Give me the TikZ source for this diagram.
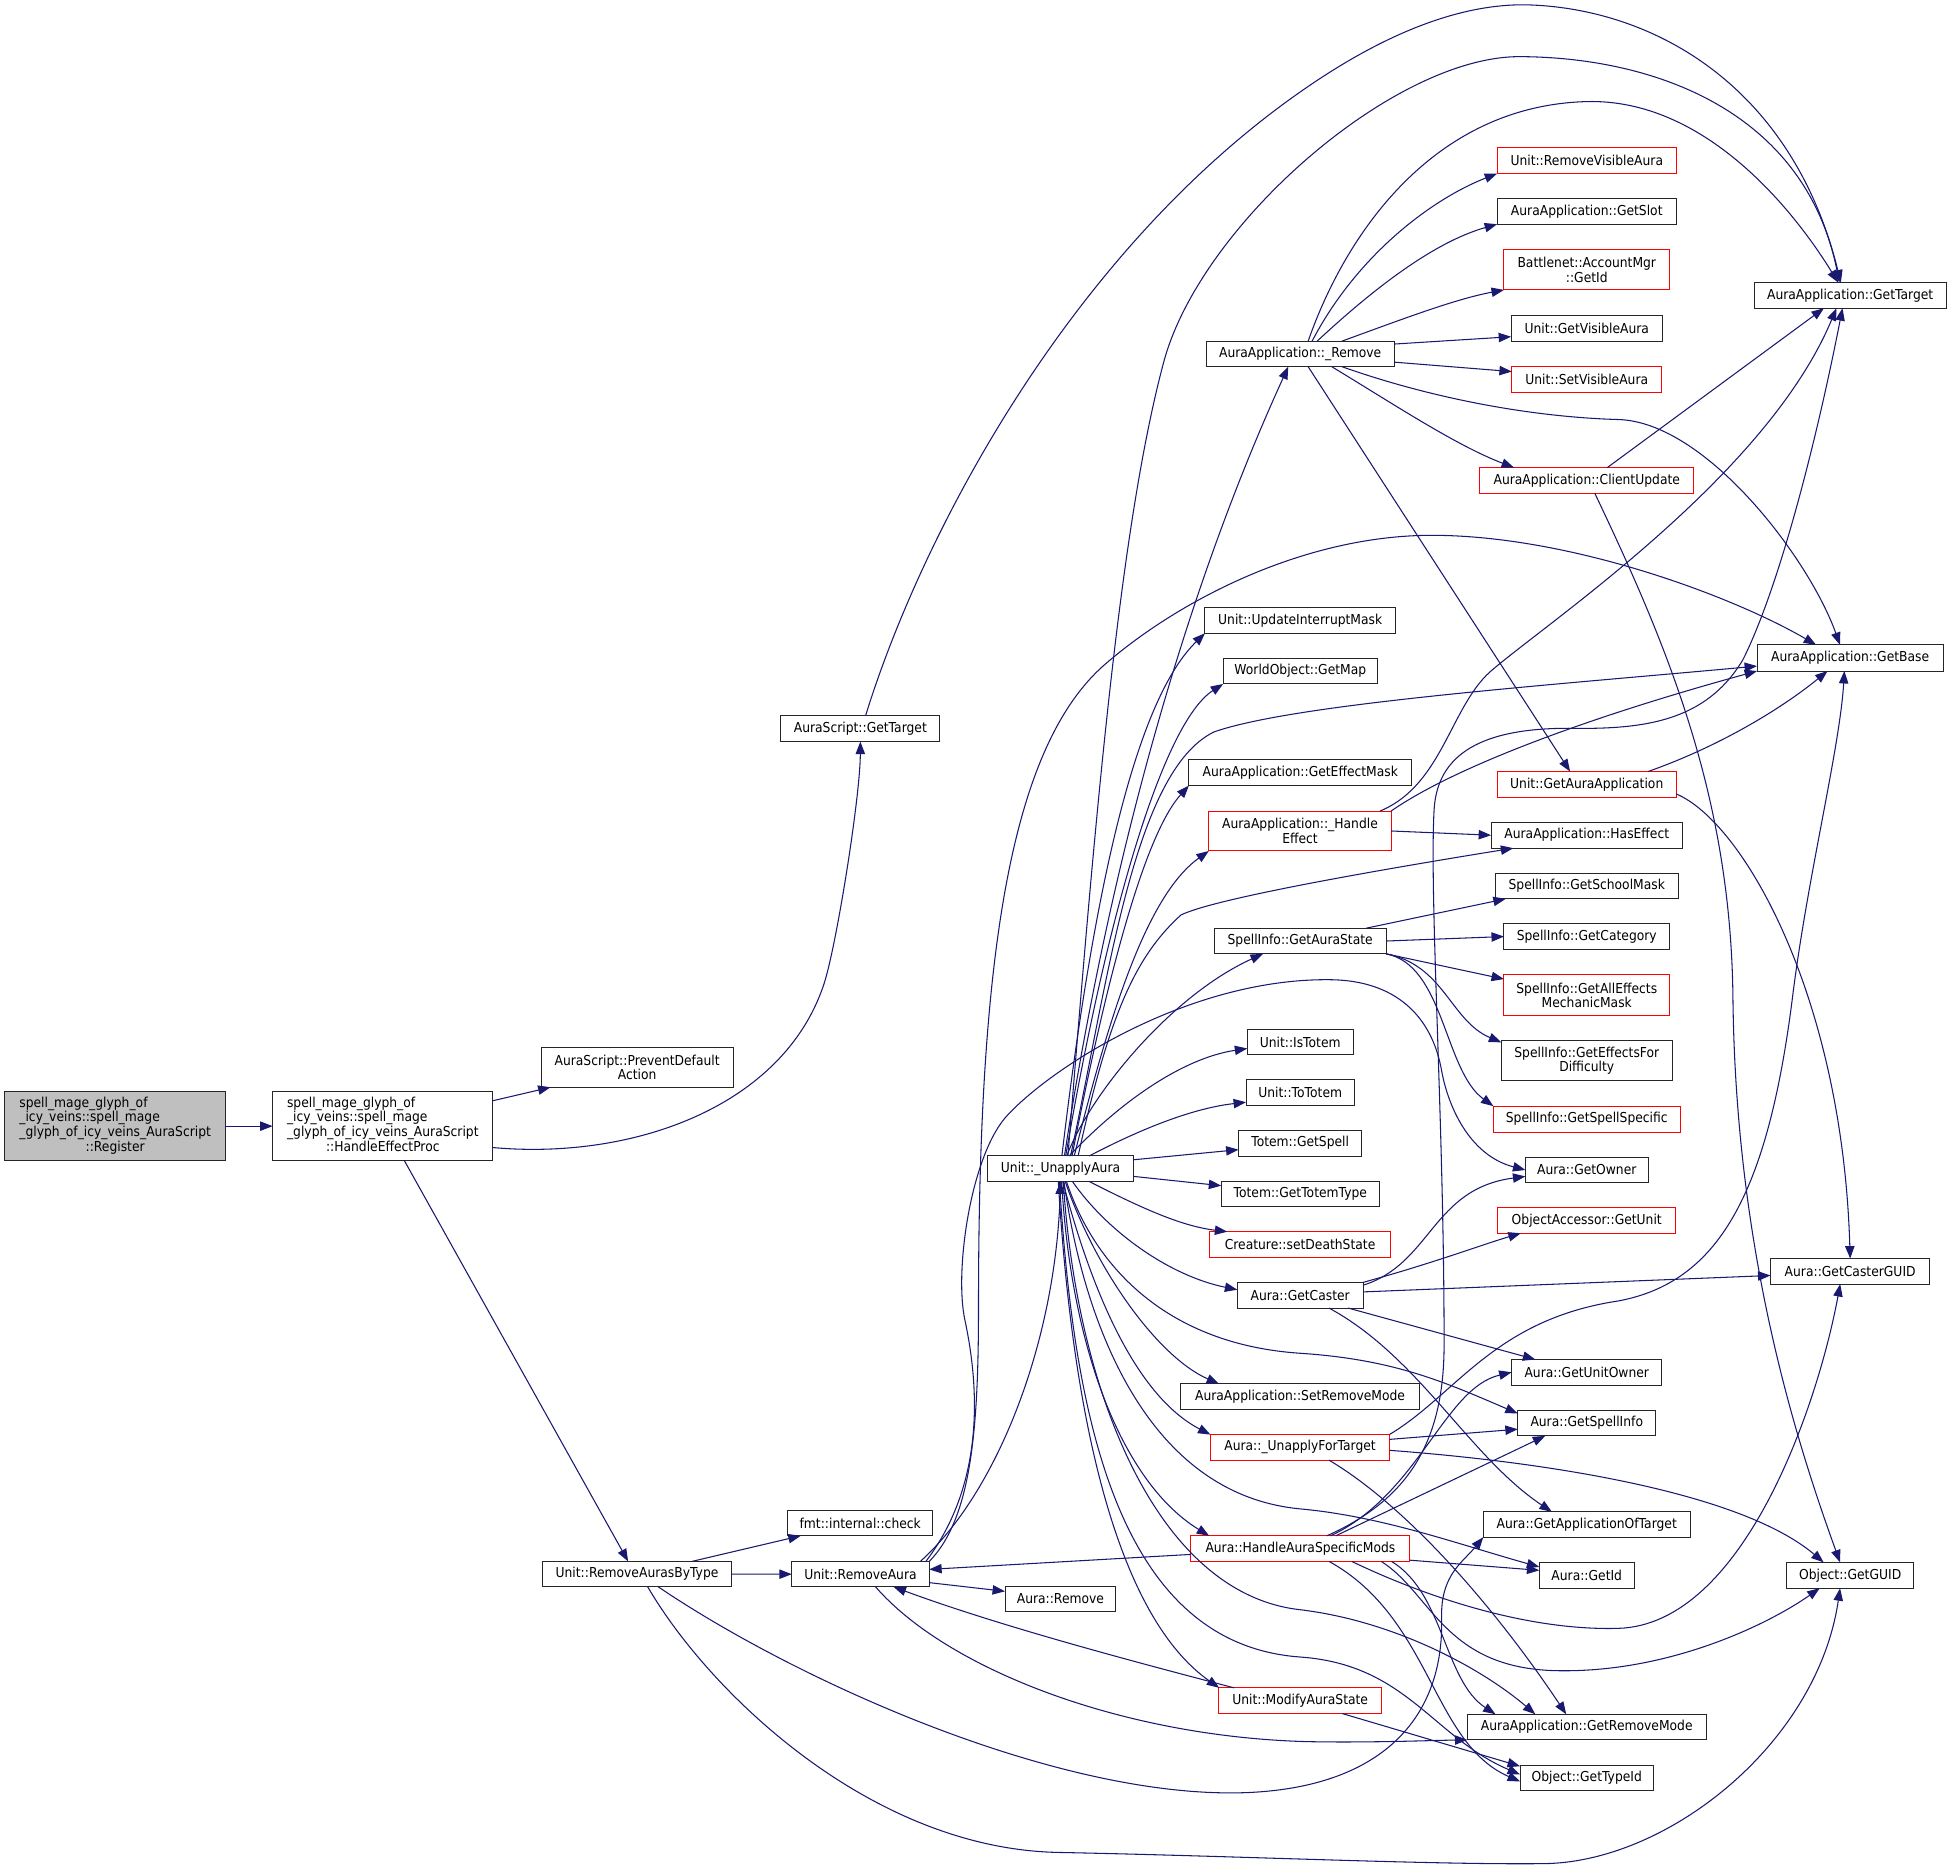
\documentclass[tikz,border=0pt]{standalone}
\usepackage{fontspec}
\newfontfamily\dvfont[FakeStretch=0.9]{DejaVu Sans}
\usetikzlibrary{arrows.meta}
\definecolor{edgeblue}{HTML}{191970}
\definecolor{rootgray}{HTML}{BFBFBF}
\newcommand\mkbox[7]{\node[#6, minimum width=#4, minimum height=#5] (#1) at (#2,#3) {#7};}
\tikzset{
  nbox/.style={draw=black!85, line width=0.8pt, fill=white, inner sep=0pt, outer sep=0pt, align=center, font=\dvfont\fontsize{11}{11.6}\selectfont},
  rbox/.style={nbox, draw=red},
  gbox/.style={nbox, fill=rootgray},
  link/.style={draw=edgeblue, line width=0.85pt, -{Triangle[length=10pt,width=7.5pt]}},
}
\begin{document}
\begin{tikzpicture}[x=1pt,y=-1pt]
\fill[white] (0,0) rectangle (1568,1502);
\useasboundingbox (0,0) rectangle (1568,1502);
% ---- nodes
\mkbox{reg}{92.5}{904.6}{177}{55.4}{gbox}{\begin{tabular}{@{}l@{}}spell\_mage\_glyph\_of\\\_icy\_veins::spell\_mage\\\_glyph\_of\_icy\_veins\_AuraScript\\\multicolumn{1}{@{}c@{}}{::Register}\end{tabular}}
\mkbox{hep}{307.5}{904.6}{177}{55.4}{nbox}{\begin{tabular}{@{}l@{}}spell\_mage\_glyph\_of\\\_icy\_veins::spell\_mage\\\_glyph\_of\_icy\_veins\_AuraScript\\\multicolumn{1}{@{}c@{}}{::HandleEffectProc}\end{tabular}}
\mkbox{pda}{511.8}{857.3}{154.4}{32.1}{nbox}{AuraScript::PreventDefault\\Action}
\mkbox{asgt}{691.1}{585.3}{127.8}{20.8}{nbox}{AuraScript::GetTarget}
\mkbox{rabt}{511.7}{1264.4}{151.3}{20.4}{nbox}{Unit::RemoveAurasByType}
\mkbox{fmt}{691}{1223.5}{116.8}{20.3}{nbox}{fmt::internal::check}
\mkbox{ra}{691.2}{1264.5}{110.4}{20.4}{nbox}{Unit::RemoveAura}
\mkbox{arem}{851.8}{1284.5}{89}{20.3}{nbox}{Aura::Remove}
\mkbox{ua}{851.9}{938.8}{117}{20.5}{nbox}{Unit::\_UnapplyAura}
\mkbox{rem}{1044.4}{284.3}{151}{20.5}{nbox}{AuraApplication::\_Remove}
\mkbox{uim}{1044.4}{498.4}{153}{20.6}{nbox}{Unit::UpdateInterruptMask}
\mkbox{gmap}{1044.5}{539.1}{124}{20.6}{nbox}{WorldObject::GetMap}
\mkbox{gem}{1044.5}{620.7}{179}{20.6}{nbox}{AuraApplication::GetEffectMask}
\mkbox{he}{1044.25}{667.5}{146.5}{32.1}{rbox}{AuraApplication::\_Handle\\Effect}
\mkbox{gas}{1044.4}{755.9}{138}{20.6}{nbox}{SpellInfo::GetAuraState}
\mkbox{ist}{1044.4}{837}{85}{20.6}{nbox}{Unit::IsTotem}
\mkbox{tot}{1044.4}{877.7}{87}{20.6}{nbox}{Unit::ToTotem}
\mkbox{tgs}{1044.4}{918.3}{99}{20.6}{nbox}{Totem::GetSpell}
\mkbox{gtt}{1044.5}{959.1}{127}{20.6}{nbox}{Totem::GetTotemType}
\mkbox{sds}{1044.3}{999.7}{145}{20.6}{rbox}{Creature::setDeathState}
\mkbox{gc}{1044.4}{1040.4}{101}{20.6}{nbox}{Aura::GetCaster}
\mkbox{srm}{1044.3}{1121.9}{191.5}{20.6}{nbox}{AuraApplication::SetRemoveMode}
\mkbox{uft}{1044.3}{1162.5}{144}{20.6}{rbox}{Aura::\_UnapplyForTarget}
\mkbox{hasm}{1044.6}{1244}{176}{20.6}{rbox}{Aura::HandleAuraSpecificMods}
\mkbox{mas}{1044.4}{1366.1}{131}{20.6}{rbox}{Unit::ModifyAuraState}
\mkbox{rva}{1274.6}{129}{144}{20.8}{rbox}{Unit::RemoveVisibleAura}
\mkbox{gslot}{1274.6}{169.8}{144}{20.6}{nbox}{AuraApplication::GetSlot}
\mkbox{amg}{1274.6}{216.7}{133}{32.4}{rbox}{Battlenet::AccountMgr\\::GetId}
\mkbox{gva}{1274.6}{264.1}{121.5}{20.6}{nbox}{Unit::GetVisibleAura}
\mkbox{sva}{1274.6}{304.8}{120.3}{20.6}{rbox}{Unit::SetVisibleAura}
\mkbox{cu}{1274.6}{385.9}{172}{20.6}{rbox}{AuraApplication::ClientUpdate}
\mkbox{gaa}{1274.6}{630.2}{143.6}{20.9}{rbox}{Unit::GetAuraApplication}
\mkbox{hase}{1274.6}{670.9}{153.7}{20.8}{nbox}{AuraApplication::HasEffect}
\mkbox{gsm}{1274.6}{711.7}{147}{20.6}{nbox}{SpellInfo::GetSchoolMask}
\mkbox{gcat}{1274.6}{752.3}{133}{20.4}{nbox}{SpellInfo::GetCategory}
\mkbox{gaem}{1274.6}{799.4}{133}{32.8}{rbox}{SpellInfo::GetAllEffects\\MechanicMask}
\mkbox{gefd}{1274.6}{851.9}{137.3}{32.6}{nbox}{SpellInfo::GetEffectsFor\\Difficulty}
\mkbox{gss}{1274.6}{899}{150}{20.9}{rbox}{SpellInfo::GetSpellSpecific}
\mkbox{gown}{1274.6}{939.8}{98.6}{20.7}{nbox}{Aura::GetOwner}
\mkbox{gunit}{1274.6}{980.3}{143.3}{20.6}{rbox}{ObjectAccessor::GetUnit}
\mkbox{guo}{1274.6}{1102.3}{120.7}{20.6}{nbox}{Aura::GetUnitOwner}
\mkbox{gsi}{1274.6}{1143.2}{110.8}{20.4}{nbox}{Aura::GetSpellInfo}
\mkbox{gaot}{1274.6}{1224.6}{166.7}{20.4}{nbox}{Aura::GetApplicationOfTarget}
\mkbox{gid}{1274.6}{1265.4}{76.2}{20.8}{nbox}{Aura::GetId}
\mkbox{grm}{1274.6}{1387.3}{191.7}{20.6}{nbox}{AuraApplication::GetRemoveMode}
\mkbox{gtid}{1274.6}{1428.2}{107.2}{20.6}{nbox}{Object::GetTypeId}
\mkbox{aagt}{1486.2}{237.3}{154.4}{20.6}{nbox}{AuraApplication::GetTarget}
\mkbox{gbase}{1486.2}{528.5}{149.6}{21}{nbox}{AuraApplication::GetBase}
\mkbox{gcg}{1486.2}{1021.2}{128}{20.5}{nbox}{Aura::GetCasterGUID}
\mkbox{guid}{1486.2}{1265.4}{101.6}{20.8}{nbox}{Object::GetGUID}
% ---- edges: left part
\draw[link] (reg.east) -- (hep.west);
\draw[link] (hep.13) -- (pda.193);
\draw[link] (hep.-11) .. controls (510,932) and (630,888) .. (662,790) .. controls (672,759) and (691,640) .. (asgt.south);
\draw[link] (hep.-58) -- (rabt.125);
\draw[link] (asgt.68) .. controls (740,430) and (860,200) .. (1050,70) .. controls (1120,22) and (1180,2) .. (1230,4) .. controls (1330,8) and (1440,70) .. (aagt.126);
\draw[link] (rabt.13) -- (fmt.192);
\draw[link] (rabt.east) -- (ra.west);
\draw[link] (rabt.-31) .. controls (640,1350) and (850,1445) .. (1000,1440) .. controls (1110,1436) and (1160,1380) .. (1158,1300) .. controls (1157,1265) and (1175,1255) .. (gaot.187);
\draw[link] (rabt.-50) .. controls (570,1360) and (700,1485) .. (850,1488) .. controls (1000,1491) and (1150,1498) .. (1240,1497) .. controls (1340,1496) and (1460,1400) .. (guid.232);
% ---- Unit::RemoveAura
\draw[link] (ra.-7) -- (arem.172);
\draw[link] (ra.12) .. controls (800,1200) and (848,1080) .. (ua.south);
\draw[link] (ra.north east) .. controls (780,1220) and (786,1150) .. (786,1050) .. controls (786,780) and (808.6,600.8) .. (888.6,532.8) .. controls (950,480) and (1050,430) .. (1150,430) .. controls (1260,430) and (1390,478) .. (gbase.159);
\draw[link] (ra.11) .. controls (785,1200) and (790,1130) .. (775,1060) .. controls (766.5,1020) and (780,926) .. (810,895) .. controls (850,853) and (960,785) .. (1070,787) .. controls (1120,788) and (1150,815) .. (1158,860) .. controls (1163,888) and (1180,928) .. (gown.west);
\draw[link] (ra.-40) .. controls (760,1340) and (900,1395) .. (1050,1399) .. controls (1100,1400) and (1150,1398) .. (grm.south west);
\draw[link] (mas.169) .. controls (900,1332) and (800,1305) .. (ra.-21);
\draw[link] (hasm.183) -- (ra.4);
% ---- Unit::_UnapplyAura
\draw[link] (ua.73) .. controls (890,700) and (950,480) .. (rem.227);
\draw[link] (ua.60) .. controls (880,650) and (900,420) .. (935,290) .. controls (965,180) and (1120,45) .. (1221,45.5) .. controls (1330,46) and (1450,90) .. (aagt.130);
\draw[link] (ua.84) .. controls (880,700) and (915,560) .. (uim.south west);
\draw[link] (ua.68) .. controls (890,730) and (935,580) .. (gmap.south west);
\draw[link] (ua.52) .. controls (890,790) and (910,620) .. (975,588) .. controls (1040,565) and (1250,550) .. (gbase.185);
\draw[link] (ua.48) .. controls (890,780) and (920,670) .. (gem.south west);
\draw[link] (ua.43) .. controls (890,820) and (920,720) .. (he.south west);
\draw[link] (ua.36) .. controls (890,820) and (910,770) .. (948.6,735) .. controls (975,722) and (1100,700) .. (hase.190);
\draw[link] (ua.64) .. controls (875,880) and (940,800) .. (gas.199);
\draw[link] (ua.56) .. controls (900,885) and (950,850) .. (ist.187);
\draw[link] (ua.24) .. controls (920,905) and (960,890) .. (tot.190);
\draw[link] (ua.7) -- (tgs.186);
\draw[link] (ua.-6) -- (gtt.174);
\draw[link] (ua.-24) .. controls (920,972) and (950,985) .. (sds.170);
\draw[link] (ua.-47) .. controls (890,990) and (940,1025) .. (gc.175);
\draw[link] (ua.-70) .. controls (880,1020) and (930,1090) .. (srm.171);
\draw[link] (ua.-65) .. controls (880,1020) and (940,1080) .. (1044,1087) .. controls (1120,1092) and (1160,1110) .. (gsi.172);
\draw[link] (ua.-80) .. controls (875,1030) and (910,1120) .. (uft.172);
\draw[link] (ua.-85) .. controls (860,1080) and (900,1190) .. (hasm.172);
\draw[link] (ua.-75) .. controls (870,1060) and (920,1200) .. (1044,1212) .. controls (1110,1218) and (1170,1240) .. (gid.170);
\draw[link] (ua.-78) .. controls (865,1120) and (930,1280) .. (1044,1293) .. controls (1120,1302) and (1190,1340) .. (grm.166);
\draw[link] (ua.-95) .. controls (862,1130) and (895,1320) .. (1044,1331) .. controls (1130,1337) and (1150,1395) .. (gtid.177);
\draw[link] (ua.-100) .. controls (862,1150) and (900,1300) .. (mas.171);
% ---- AuraApplication::_Remove
\draw[link] (rem.58) .. controls (1080,190) and (1150,85) .. (1274.5,81.6) .. controls (1369.5,79) and (1441,169) .. (aagt.133);
\draw[link] (rem.47) .. controls (1090,205) and (1150,160) .. (rva.south west);
\draw[link] (rem.37) .. controls (1100,235) and (1150,195) .. (gslot.south west);
\draw[link] (rem.17) .. controls (1130,255) and (1170,240) .. (amg.south west);
\draw[link] (rem.6) -- (gva.186);
\draw[link] (rem.-5) -- (sva.174);
\draw[link] (rem.-17) .. controls (1150,320) and (1230,335) .. (1300,337) .. controls (1370,339) and (1453,448) .. (gbase.128);
\draw[link] (rem.-22) .. controls (1120,325) and (1170,358) .. (cu.170);
\draw[link] (rem.-58) -- (gaa.142);
% ---- ClientUpdate, GetAuraApplication, _HandleEffect
\draw[link] (cu.32) -- (aagt.206);
\draw[link] (cu.-58) .. controls (1340,520) and (1390,640) .. (1392,800) .. controls (1394,1000) and (1440,1150) .. (guid.128);
\draw[link] (gaa.12) .. controls (1380,600) and (1430,570) .. (gbase.210);
\draw[link] (gaa.-6) .. controls (1400,660) and (1480,800) .. (gcg.north);
\draw[link] (he.14) .. controls (1160,630) and (1165,565) .. (1200,537) .. controls (1250,495) and (1420,380) .. (aagt.223);
\draw[link] (he.north east) .. controls (1170,615) and (1280,575) .. (gbase.south west);
\draw[link] (he.east) -- (hase.west);
% ---- SpellInfo::GetAuraState
\draw[link] (gas.11) -- (gsm.189);
\draw[link] (gas.east) -- (gcat.west);
\draw[link] (gas.south east) -- (gaem.169);
\draw[link] (gas.south east) .. controls (1160,775) and (1165,820) .. (gefd.168);
\draw[link] (gas.south east) .. controls (1160,775) and (1160,860) .. (gss.north west);
% ---- Aura::GetCaster
\draw[link] (gc.9) .. controls (1150,1015) and (1150,955) .. (gown.186);
\draw[link] (gc.north east) .. controls (1150,1015) and (1190,1000) .. (gunit.191);
\draw[link] (gc.3) -- (gcg.183);
\draw[link] (gc.-15) -- (guo.166);
\draw[link] (gc.-24) .. controls (1140,1090) and (1180,1170) .. (gaot.160);
% ---- Aura::_UnapplyForTarget
\draw[link] (uft.5) -- (gsi.185);
\draw[link] (uft.-2) .. controls (1250,1175) and (1400,1200) .. (guid.154);
\draw[link] (uft.north east) .. controls (1170,1120) and (1200,1060) .. (1300,1045) .. controls (1380,1030) and (1420,960) .. (1440,800) .. controls (1452,704) and (1478,600) .. (gbase.246);
\draw[link] (uft.-24) .. controls (1130,1210) and (1200,1290) .. (grm.148);
% ---- Aura::HandleAuraSpecificMods
\draw[link] (hasm.26) .. controls (1130,1205) and (1160,1160) .. (1160,1080) .. controls (1160,900) and (1148,720) .. (1152,650) .. controls (1155,600) and (1200,585) .. (1260,585) .. controls (1320,586) and (1370,580) .. (1400,530) .. controls (1430,470) and (1460,350) .. (aagt.239);
\draw[link] (hasm.23) .. controls (1140,1200) and (1160,1115) .. (guo.west);
\draw[link] (hasm.20) -- (gsi.197);
\draw[link] (hasm.-6) -- (gid.174);
\draw[link] (hasm.-9) .. controls (1150,1280) and (1160,1340) .. (1250,1342) .. controls (1340,1344) and (1420,1305) .. (guid.203);
\draw[link] (hasm.-14) .. controls (1150,1285) and (1230,1310) .. (1300,1308) .. controls (1400,1305) and (1460,1130) .. (gcg.232);
\draw[link] (hasm.-8) .. controls (1160,1280) and (1160,1350) .. (grm.172);
\draw[link] (hasm.-24) .. controls (1150,1300) and (1150,1400) .. (gtid.183);
% ---- Unit::ModifyAuraState
\draw[link] (mas.-17) -- (gtid.170);
\end{tikzpicture}
\end{document}
